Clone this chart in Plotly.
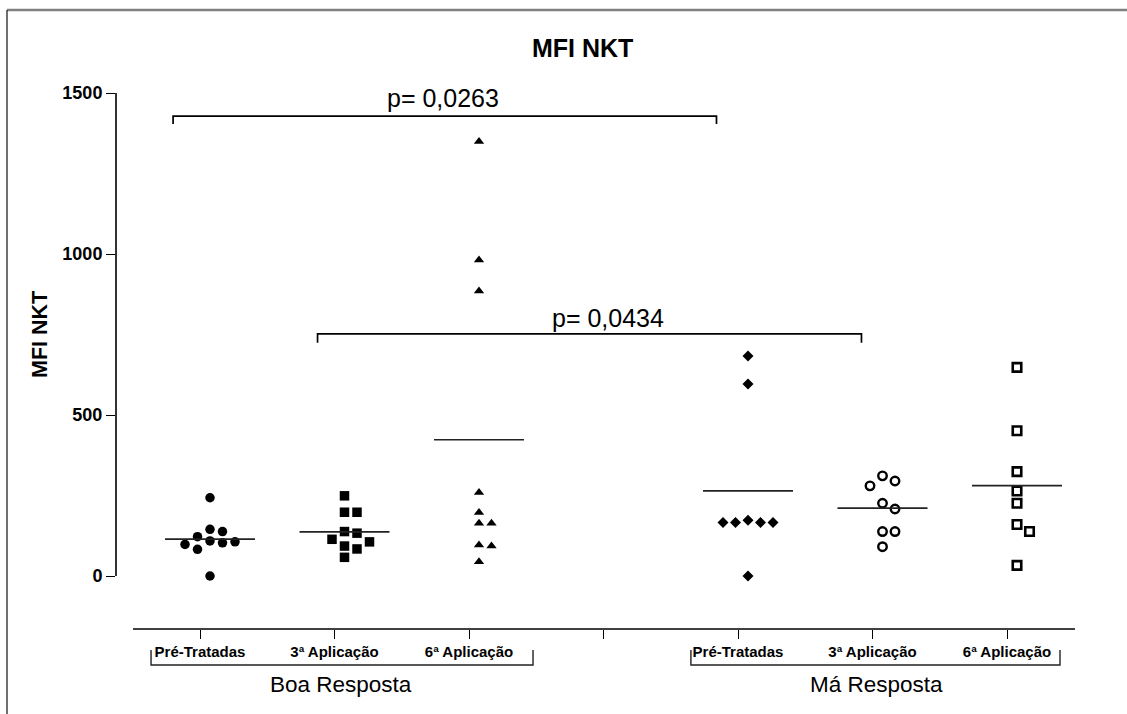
import plotly.graph_objects as go

# ---- data -------------------------------------------------------------
categories = ["Pré-Tratadas", "3ª Aplicação", "6ª Aplicação",
              "Pré-Tratadas", "3ª Aplicação", "6ª Aplicação"]
group_names = ["Boa Resposta", "Má Resposta"]

boa_pre = [243, 145, 138, 122, 109, 106, 103, 98, 83, 0]
boa_3a = [249, 198, 198, 138, 133, 114, 106, 93, 84, 58]
boa_6a = [1349, 981, 885, 259, 197, 164, 164, 96, 93, 44]
ma_pre = [683, 596, 173, 166, 166, 166, 166, 0]
ma_3a = [311, 295, 280, 226, 208, 138, 138, 91]
ma_6a = [648, 451, 324, 264, 226, 160, 138, 33]

y_ticks = [0, 500, 1000, 1500]
p_labels = ["p= 0,0263", "p= 0,0434"]

# ---- layout geometry --------------------------------------------------
W, H = 1127, 714
M_L, M_R, M_T, M_B = 116, 52, 93, 85
X_RANGE = [0.3755, 7.5056]
Y_RANGE = [-164.6, 1500]
PLOT_W = W - M_L - M_R
PLOT_H = H - M_T - M_B
PX_X = PLOT_W / (X_RANGE[1] - X_RANGE[0])
PX_Y = PLOT_H / (Y_RANGE[1] - Y_RANGE[0])

col_pos = [1, 2, 3, 5, 6, 7]
COL_SHIFT = 10 / PX_X          # scatter columns sit slightly right of the ticks
MEAN_HALF = 45 / PX_X          # half width of the mean line
SLOT_PX = 12.5                 # horizontal step between dodged points
MIN_PX = 10.5                  # minimal distance between marker centres

FONT = "Arial, Liberation Sans, sans-serif"
INK = "#000000"

series = [boa_pre, boa_3a, boa_6a, ma_pre, ma_3a, ma_6a]
styles = [
    dict(symbol="circle", size=9.5, color=INK, line=dict(width=0)),
    dict(symbol="square", size=9.5, color=INK, line=dict(width=0)),
    dict(symbol="triangle-up", size=9, color=INK, line=dict(width=0)),
    dict(symbol="diamond", size=8.5, color=INK, line=dict(width=0)),
    dict(symbol="circle", size=8.5, color="white", line=dict(width=2.4, color=INK)),
    dict(symbol="square", size=8.5, color="white", line=dict(width=2.6, color=INK)),
]


def swarm_offsets(values):
    """Spread points of similar value sideways so markers don't overlap."""
    order = sorted(range(len(values)), key=lambda i: -values[i])
    placed, offs = [], [0.0] * len(values)
    for i in order:
        for k in [0, 1, -1, 2, -2, 3, -3, 4, -4]:
            if all(((k - kj) * SLOT_PX) ** 2 + ((values[i] - vj) * PX_Y) ** 2
                   >= MIN_PX ** 2 for kj, vj in placed):
                break
        placed.append((k, values[i]))
        offs[i] = k * SLOT_PX / PX_X
    return offs


fig = go.Figure()
shapes = []

for pos, vals, st in zip(col_pos, series, styles):
    centre = pos + COL_SHIFT
    offs = swarm_offsets(vals)
    fig.add_trace(go.Scatter(
        x=[centre + o for o in offs], y=vals, mode="markers",
        marker=st, showlegend=False, hoverinfo="y"))
    mean = sum(vals) / len(vals)
    shapes.append(dict(type="line", xref="x", yref="y",
                       x0=centre - MEAN_HALF, x1=centre + MEAN_HALF,
                       y0=mean, y1=mean, line=dict(color="#222", width=1.7)))

# y axis line (stops at 0, the x axis sits lower)
shapes.append(dict(type="line", xref="paper", yref="y", x0=0, x1=0,
                   y0=0, y1=1500, line=dict(color=INK, width=1.6)))
# x axis line
shapes.append(dict(type="line", xref="x", yref="paper", x0=0.502, x1=X_RANGE[1],
                   y0=0, y1=0, line=dict(color=INK, width=1.6)))

# significance brackets
brackets = [
    dict(x0=0.80, x1=4.84, y=1428, drop=24, tx=2.807, ty=1484),
    dict(x0=1.874, x1=5.918, y=752, drop=28, tx=4.033, ty=801),
]
annotations = []
for b, lab in zip(brackets, p_labels):
    shapes.append(dict(
        type="path", xref="x", yref="y",
        path=f"M{b['x0']},{b['y'] - b['drop']} L{b['x0']},{b['y']} "
             f"L{b['x1']},{b['y']} L{b['x1']},{b['y'] - b['drop']}",
        line=dict(color=INK, width=1.7)))
    annotations.append(dict(x=b["tx"], y=b["ty"], xref="x", yref="y", text=lab,
                            showarrow=False, font=dict(family=FONT, size=25, color=INK)))


def paper_y(px):
    return (H - M_B - px) / PLOT_H


def paper_x(px):
    return (px - M_L) / PLOT_W


# group brackets under the category labels
group_spans = [(0.636, 3.476, 2.05), (4.65, 7.394, 6.03)]
yb, yt = paper_y(665), paper_y(650)
for (gx0, gx1, gc), name in zip(group_spans, group_names):
    shapes.append(dict(type="path", xref="x", yref="paper",
                       path=f"M{gx0},{yt} L{gx0},{yb} L{gx1},{yb} L{gx1},{yt}",
                       line=dict(color="#222", width=1.4)))
    annotations.append(dict(x=gc, y=paper_y(684), xref="x", yref="paper", text=name,
                            showarrow=False, yanchor="middle",
                            font=dict(family=FONT, size=22.5, color=INK)))

# title and y-axis title
annotations.append(dict(x=paper_x(582), y=paper_y(48), xref="paper", yref="paper",
                        text="<b>MFI NKT</b>", showarrow=False, yanchor="middle",
                        font=dict(family=FONT, size=25, color=INK)))
annotations.append(dict(x=paper_x(40), y=paper_y(335), xref="paper", yref="paper",
                        text="<b>MFI NKT</b>", showarrow=False, textangle=-90,
                        xanchor="center", yanchor="middle",
                        font=dict(family=FONT, size=21.5, color=INK)))

# frame around the figure
shapes.append(dict(type="line", xref="paper", yref="paper",
                   x0=paper_x(7), x1=paper_x(1127), y0=paper_y(10), y1=paper_y(10),
                   line=dict(color="#808080", width=2.5)))
shapes.append(dict(type="line", xref="paper", yref="paper",
                   x0=paper_x(7), x1=paper_x(7), y0=paper_y(10), y1=paper_y(714),
                   line=dict(color="#222", width=1.3)))

fig.update_layout(
    width=W, height=H,
    margin=dict(l=M_L, r=M_R, t=M_T, b=M_B, pad=0),
    paper_bgcolor="white", plot_bgcolor="white",
    shapes=shapes, annotations=annotations,
    xaxis=dict(range=X_RANGE, showgrid=False, zeroline=False, showline=False,
               tickmode="array", tickvals=[1, 2, 3, 4, 5, 6, 7],
               ticktext=categories[:3] + [""] + categories[3:],
               ticks="outside", ticklen=9, tickwidth=1.3, tickcolor=INK,
               tickfont=dict(family=FONT, size=15, color=INK, weight="bold")),
    yaxis=dict(range=Y_RANGE, showgrid=False, zeroline=False, showline=False,
               tickmode="array", tickvals=y_ticks,
               ticks="outside", ticklen=9, tickwidth=1.3, tickcolor=INK,
               tickfont=dict(family=FONT, size=18, color=INK, weight="bold")),
)

fig.write_html("out.html")
